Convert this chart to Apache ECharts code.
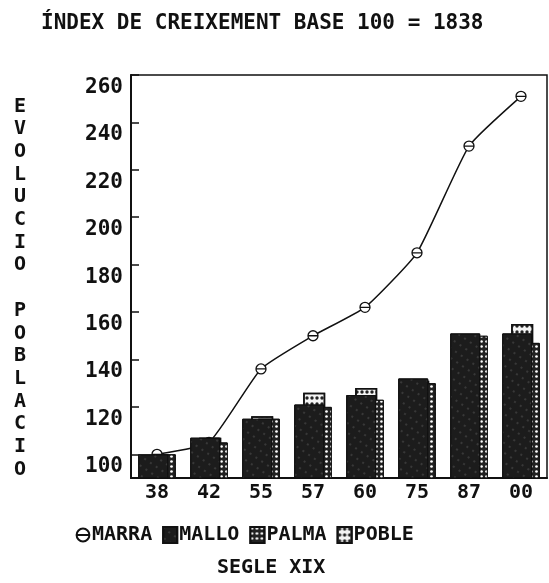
<!DOCTYPE html>
<html>
<head>
<meta charset="utf-8">
<script src="https://cdn.jsdelivr.net/npm/echarts@6/dist/echarts.min.js"></script>
<style>
  html, body { margin: 0; padding: 0; background: #fff; }
  #main { width: 549px; height: 583px; }
</style>
</head>
<body>
<div id="main"></div>
<script>
// dades llegides del grafic
const years = ['38', '42', '55', '57', '60', '75', '87', '00'];
const marra = [100, 105, 136, 150, 162, 185, 230, 251];
const mallo = [100, 107, 115, 121, 125, 132, 151, 151];
const palma = [100, 105, 115, 120, 123, 130, 150, 147];
const poble = [99, 107, 116, 126, 128, 131, 148, 155];
const yTicks = [100, 120, 140, 160, 180, 200, 220, 240, 260];

const FONT = 'DejaVu Sans Mono';
const INK = '#111';

// eix Y vertical, una lletra per linia
const yName = 'EVOLUCIO POBLACIO'.split('').join('\n');

const chart = echarts.init(document.getElementById('main'));

const option = {
  backgroundColor: '#fff',
  animation: false,
  title: [
    {
      text: 'ÍNDEX DE CREIXEMENT BASE 100 = 1838',
      left: 36, top: 8,
      textStyle: { fontFamily: FONT, fontWeight: 'bold', fontSize: 21, color: INK }
    },
    {
      text: 'SEGLE XIX',
      left: 212, top: 553,
      textStyle: { fontFamily: FONT, fontWeight: 'bold', fontSize: 20, color: INK }
    },
    {
      text: yName,
      left: 9, top: 90,
      textStyle: { fontFamily: FONT, fontWeight: 'bold', fontSize: 20, color: INK, lineHeight: 22.7 }
    }
  ],
  legend: {
    left: 70, top: 520,
    itemWidth: 14, itemHeight: 16, itemGap: 10,
    textStyle: { fontFamily: FONT, fontWeight: 'bold', fontSize: 20, color: INK, padding: [0, 0, 0, -3] },
    data: [
      { name: 'MARRA' },
      { name: 'MALLO', icon: 'rect' },
      { name: 'PALMA', icon: 'rect' },
      { name: 'POBLE', icon: 'rect' }
    ]
  },
  grid: {
    left: 131, right: 2, top: 75, bottom: 105,
    show: true, borderColor: INK, borderWidth: 1.5, backgroundColor: 'transparent'
  },
  xAxis: {
    type: 'category',
    data: years,
    axisLine: { lineStyle: { color: INK, width: 2 } },
    axisTick: { show: false },
    axisLabel: { fontFamily: FONT, fontWeight: 'bold', fontSize: 20, color: INK, margin: 5 }
  },
  yAxis: {
    type: 'value',
    min: 90, max: 260,
    splitLine: { show: false },
    axisLine: { show: true, lineStyle: { color: INK, width: 2 } },
    axisTick: { show: true, inside: true, length: 8, customValues: yTicks, lineStyle: { color: INK, width: 1.5 } },
    axisLabel: {
      customValues: yTicks,
      fontFamily: FONT, fontWeight: 'bold', fontSize: 21, color: INK,
      margin: 8, verticalAlign: 'top', padding: [2, 0, 0, 0]
    }
  },
  series: [
    {
      name: 'MARRA',
      type: 'line',
      data: marra,
      z: 1,
      smooth: 0.15,
      symbol: 'path://M0,5A5,5 0 1,0 10,5A5,5 0 1,0 0,5ZM0,5L10,5',
      symbolSize: 10,
      lineStyle: { color: INK, width: 1.5 },
      itemStyle: { color: '#fff', borderColor: INK, borderWidth: 1.3 }
    },
    {
      name: 'MALLO',
      type: 'bar',
      data: mallo,
      z: 4,
      barWidth: 30,
      barGap: '-70%',
      itemStyle: {
        color: '#1c1c1c', borderColor: INK, borderWidth: 1,
        decal: { symbol: 'rect', color: 'rgba(255,255,255,0.12)', dashArrayX: [[2, 5]], dashArrayY: [2, 6], symbolSize: 1, rotation: 0.6 }
      }
    },
    {
      // POBLE queda al mig, darrere de MALLO
      name: 'POBLE',
      type: 'bar',
      data: poble,
      z: 2,
      barWidth: 22,
      barGap: '-70%',
      itemStyle: {
        color: '#f4f4f4', borderColor: INK, borderWidth: 1.5,
        decal: { symbol: 'circle', color: '#222', dashArrayX: [[4, 1]], dashArrayY: [4, 2], symbolSize: 0.85 }
      }
    },
    {
      name: 'PALMA',
      type: 'bar',
      data: palma,
      z: 3,
      barWidth: 22,
      barGap: '-70%',
      itemStyle: {
        color: '#222', borderColor: INK, borderWidth: 1,
        decal: { symbol: 'circle', color: '#fff', dashArrayX: [[3, 2]], dashArrayY: [3, 2], symbolSize: 0.9 }
      }
    }
  ]
};

chart.setOption(option);
</script>
</body>
</html>
